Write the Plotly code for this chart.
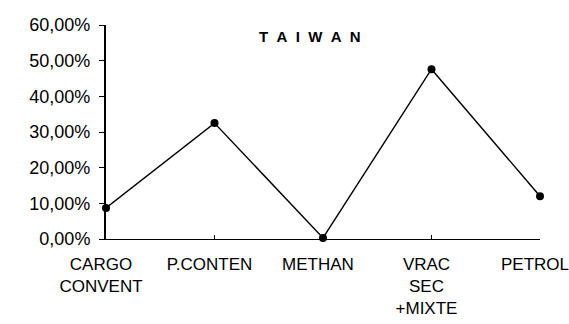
import plotly.graph_objects as go

categories = ["CARGO<br>CONVENT", "P.CONTEN", "METHAN", "VRAC<br>SEC<br>+MIXTE", "PETROL"]
values = [0.087, 0.325, 0.003, 0.476, 0.12]
y_ticks = [0, 0.1, 0.2, 0.3, 0.4, 0.5, 0.6]

x_idx = list(range(len(categories)))

fig = go.Figure(go.Scatter(
    x=x_idx, y=values, mode="lines+markers",
    line=dict(color="black", width=1.4),
    marker=dict(color="black", size=8),
    cliponaxis=False,
))

font = "Liberation Sans, Arial, sans-serif"
fig.update_layout(
    width=569, height=324,
    margin=dict(l=106, r=29, t=25, b=85),
    paper_bgcolor="white", plot_bgcolor="white",
    separators=", ",
    showlegend=False,
    font=dict(family=font, size=17, color="black"),
    annotations=[dict(
        text="<b>T\u00a0\u00a0A\u00a0\u00a0I\u00a0\u00a0W\u00a0\u00a0A\u00a0\u00a0N</b>",
        x=0.47, y=0.944, xref="paper", yref="paper",
        xanchor="center", yanchor="middle",
        showarrow=False, font=dict(family=font, size=15, color="black"),
    )],
)
fig.update_xaxes(
    range=[0, 4], tickvals=x_idx, ticktext=categories,
    showline=True, linecolor="black", linewidth=1.4,
    ticks="inside", ticklen=4, tickcolor="black",
    showgrid=False, zeroline=False, tickfont=dict(size=17),
    ticklabeloverflow="allow", ticklabelshift=-5, ticklabelstandoff=9,
    automargin=False,
)
fig.update_yaxes(
    range=[0, 0.6], tickvals=y_ticks, tickformat=".2%",
    showline=True, linecolor="black", linewidth=2,
    ticks="outside", ticklen=5, tickcolor="black",
    showgrid=False, zeroline=False, tickfont=dict(size=18),
    ticklabelstandoff=5, automargin=False,
)

fig.write_html("out.html")
